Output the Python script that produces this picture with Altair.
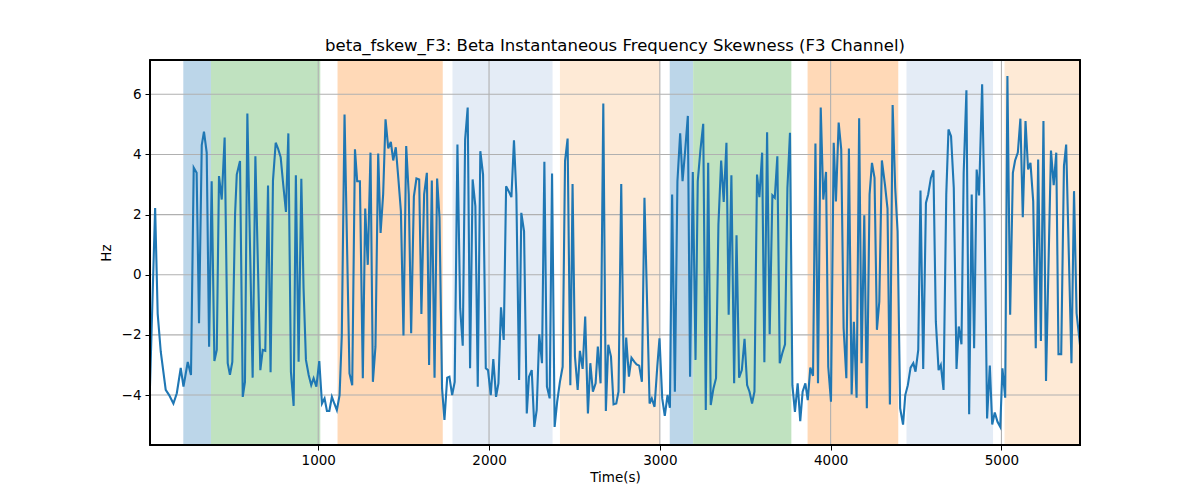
import altair as alt
import pandas as pd

time_s = [15, 45, 60, 78, 107, 127, 152, 172, 195, 211, 236, 255, 271, 288, 302, 318, 331, 347, 361, 376,
          392, 406, 419, 435, 452, 470, 483, 497, 513, 523, 542, 558, 571, 585, 616, 632, 661, 675, 690, 706,
          721, 735, 751, 765, 780, 795, 811, 825, 840, 856, 869, 885, 901, 914, 928, 944, 959, 973, 989, 1006,
          1022, 1037, 1051, 1065, 1080, 1094, 1109, 1125, 1138, 1154, 1183, 1199, 1215, 1228, 1244, 1261, 1275, 1290, 1306, 1320,
          1335, 1351, 1365, 1380, 1394, 1410, 1425, 1439, 1454, 1469, 1484, 1499, 1515, 1530, 1544, 1560, 1575, 1591, 1604, 1620,
          1636, 1649, 1665, 1681, 1696, 1710, 1725, 1739, 1755, 1768, 1784, 1799, 1815, 1831, 1846, 1860, 1875, 1889, 1904, 1920,
          1934, 1949, 1965, 1981, 1994, 2010, 2025, 2041, 2055, 2070, 2086, 2100, 2115, 2131, 2146, 2160, 2176, 2189, 2205, 2221,
          2234, 2250, 2265, 2279, 2294, 2310, 2324, 2339, 2355, 2369, 2384, 2399, 2415, 2431, 2445, 2460, 2476, 2489, 2503, 2519,
          2532, 2548, 2563, 2579, 2593, 2608, 2624, 2637, 2653, 2669, 2684, 2698, 2714, 2729, 2745, 2758, 2774, 2790, 2803, 2819,
          2834, 2850, 2864, 2879, 2895, 2910, 2940, 2953, 2969, 2985, 2998, 3014, 3029, 3045, 3059, 3072, 3088, 3103, 3119, 3133,
          3148, 3164, 3177, 3193, 3209, 3222, 3238, 3254, 3269, 3283, 3298, 3314, 3329, 3343, 3359, 3374, 3390, 3403, 3419, 3435,
          3449, 3464, 3480, 3496, 3511, 3525, 3540, 3554, 3569, 3583, 3599, 3612, 3628, 3643, 3659, 3673, 3688, 3702, 3717, 3733,
          3747, 3762, 3776, 3791, 3807, 3822, 3836, 3852, 3866, 3881, 3897, 3911, 3926, 3942, 3957, 3973, 3986, 4002, 4018, 4031,
          4047, 4062, 4076, 4092, 4107, 4123, 4136, 4152, 4167, 4181, 4197, 4212, 4228, 4242, 4257, 4271, 4285, 4300, 4318, 4333,
          4347, 4363, 4378, 4392, 4407, 4424, 4437, 4452, 4468, 4484, 4497, 4513, 4526, 4542, 4558, 4571, 4587, 4602, 4616, 4632,
          4645, 4661, 4677, 4690, 4705, 4721, 4737, 4750, 4766, 4779, 4795, 4811, 4826, 4840, 4855, 4869, 4887, 4901, 4916, 4932,
          4946, 4961, 4977, 4993, 5006, 5022, 5035, 5051, 5067, 5080, 5096, 5111, 5125, 5141, 5156, 5170, 5186, 5201, 5215, 5231,
          5246, 5261, 5290, 5306, 5321, 5334, 5350, 5366, 5379, 5410, 5425, 5440, 5460]

skew_hz = [-3.7, 2.22, -1.3, -2.56, -3.83, -4.0, -4.28, -3.94, -3.1, -3.72, -2.9, -3.33, 3.56, 3.39, -1.61, 4.31, 4.76, 4.06, -2.39, 3.11,
           -2.87, -2.5, 3.28, 2.5, 4.56, -2.94, -3.33, -2.9, 2.0, 3.33, 3.78, -4.06, -3.56, 5.36, -3.42, 3.94, -3.17, -2.5, -2.53, 2.97,
           -3.24, 3.13, 4.39, 4.19, 3.91, 3.0, 2.09, 4.7, -3.22, -4.36, 3.31, -2.89, 3.19, -0.44, -2.83, -3.33, -3.67, -3.44, -3.72, -2.87,
           -4.28, -4.11, -4.53, -4.53, -4.06, -4.28, -4.5, -4.0, -2.0, 5.33, -3.28, -3.67, 4.17, 3.11, 3.11, -3.44, 2.2, 0.33, 4.06, -3.56,
           -2.39, 4.03, 1.39, 2.67, 5.17, 4.2, 4.42, 3.8, 4.24, 3.2, 2.11, -2.02, 4.28, 2.67, -1.94, 2.61, 3.2, 3.17, -1.3, 2.67,
           3.39, -3.0, 3.13, -3.42, 3.2, 1.89, -3.78, -4.83, -3.42, -3.39, -4.0, -3.56, 4.33, -1.11, -2.36, 4.5, 5.56, -3.11, 3.17, 2.28,
           -3.72, 4.11, 3.33, -3.11, -3.17, -4.0, -2.8, -4.06, -3.61, -1.08, -2.17, 2.94, 2.78, 2.58, 4.47, 2.67, -3.5, 2.06, 1.44, -4.61,
           -3.39, -3.17, -5.06, -4.5, -1.98, -2.94, 3.76, -3.72, -4.11, 3.37, -5.06, -4.22, -3.56, -3.06, 3.78, 4.53, -3.67, 3.02, -2.72, -3.83,
           -2.53, -3.13, -1.39, -4.61, -2.94, -3.89, -3.61, -2.39, -3.61, 5.69, -4.53, -2.33, -2.72, -4.31, -4.28, -3.89, 3.02, -3.94, -2.09, -3.39,
           -2.76, -2.89, -2.98, -3.02, -3.56, 2.56, -4.28, -4.11, -4.39, -3.06, -2.11, -4.11, -4.69, -4.0, -4.42, 2.67, -3.89, 3.11, 4.7, 3.11,
           4.11, 5.28, -3.39, 3.42, -2.83, 3.11, 4.17, 5.02, -4.5, 3.72, -4.33, -3.78, -3.44, 1.67, 3.8, 2.42, 4.39, -1.33, 3.31, -3.61,
           1.31, -3.42, -3.17, -2.13, -3.67, -3.89, -4.28, -3.89, 3.33, 2.58, 4.06, -2.91, 4.74, -1.98, 2.64, 2.56, 3.94, -2.94, -2.61, -2.31,
           2.89, 4.72, -3.67, -4.56, -3.61, -4.87, -3.89, -3.61, -4.17, -3.09, -3.36, 4.36, -3.61, 5.56, 2.5, 3.42, -3.06, -4.22, 4.39, 2.44,
           5.06, 4.17, -1.78, -3.44, 4.2, -3.98, -1.56, -4.09, 5.2, -2.94, 1.98, -4.44, 2.67, 3.72, 3.22, -1.83, -0.89, 3.8, 3.0, 2.2,
           -4.31, 5.64, 2.89, 1.44, -4.44, -4.98, -4.0, -3.67, -3.09, -2.94, -3.22, -2.5, 2.8, -3.13, 2.39, 2.67, 3.22, 3.47, -1.56, -3.17,
           -3.0, -3.83, 2.67, 4.83, 4.61, 2.89, -3.13, -1.72, -2.31, 3.39, 6.13, -4.64, 2.67, -2.44, 3.5, 2.64, 6.33, 2.11, -4.78, -3.02,
           -4.98, -4.58, -4.89, -5.06, -3.11, -4.09, 6.61, -1.33, 3.39, 3.8, 4.06, 5.19, 1.91, 5.11, 3.5, 3.72, 2.44, -2.44, 3.83, -2.2,
           5.11, -3.53, 4.13, 2.98, 4.06, -2.64, -2.64, 3.61, 4.33, -2.94, 2.78, -1.28, -2.33]

span_start = [210, 372, 1113, 1786, 2415, 3058, 3195, 3865, 4444, 5018]
span_end = [372, 1012, 1729, 2372, 3000, 3195, 3770, 4396, 4951, 5460]
span_kind = ["A", "B", "C", "D", "E", "A", "B", "C", "D", "E"]
kind_names = ["A", "B", "C", "D", "E"]
kind_colors = ["#bcd6e9", "#c0e2c0", "#ffd9b7", "#e4ecf6", "#feead6"]

x_ticks = [1000, 2000, 3000, 4000, 5000]
y_ticks = [-4, -2, 0, 2, 4, 6]

line_df = pd.DataFrame({"t": time_s, "v": skew_hz})
span_df = pd.DataFrame({"t": span_start, "t2": span_end, "kind": span_kind})
xgrid_df = pd.DataFrame({"t": x_ticks})
ygrid_df = pd.DataFrame({"v": y_ticks})

FONT = "DejaVu Sans"
W, H = 930, 385
xscale = alt.Scale(domain=[15, 5460], nice=False, zero=False)
yscale = alt.Scale(domain=[-5.66, 7.14], nice=False, zero=False)

xaxis = alt.Axis(values=x_ticks, format="d", grid=False, tickColor="black", domainColor="black",
                 labelColor="black", labelFont=FONT, labelFontSize=13.5, tickSize=5, labelPadding=3,
                 title="Time(s)", titleFont=FONT, titleFontSize=13.5, titleFontWeight="normal",
                 titleColor="black", titlePadding=4)
yaxis = alt.Axis(values=y_ticks, format="d", grid=False, tickColor="black", domainColor="black",
                 labelColor="black", labelFont=FONT, labelFontSize=13.5, tickSize=5, labelPadding=4,
                 title="Hz", titleFont=FONT, titleFontSize=13.5, titleFontWeight="normal",
                 titleColor="black", titlePadding=8)

X = alt.X("t:Q", scale=xscale, axis=xaxis, title="Time(s)")
Y = alt.Y("v:Q", scale=yscale, axis=yaxis, title="Hz")

spans = alt.Chart(span_df).mark_rect().encode(
    x=X, x2="t2:Q",
    color=alt.Color("kind:N", scale=alt.Scale(domain=kind_names, range=kind_colors), legend=None),
)
vgrid = alt.Chart(xgrid_df).mark_rule(color="#b0b0b0", strokeWidth=1.1).encode(x=X)
hgrid = alt.Chart(ygrid_df).mark_rule(color="#b0b0b0", strokeWidth=1.1).encode(y=Y)
line = alt.Chart(line_df).mark_line(color="#1f77b4", strokeWidth=2.1, clip=True).encode(x=X, y=Y)
frame = alt.Chart(ygrid_df).mark_rect(filled=False, stroke="black", strokeWidth=1.2).encode(
    x=alt.value(0), x2=alt.value(W), y=alt.value(0), y2=alt.value(H)
)

chart = alt.layer(spans, vgrid, hgrid, line, frame).properties(
    width=W, height=H,
    title=alt.Title("beta_fskew_F3: Beta Instantaneous Frequency Skewness (F3 Channel)",
                    font=FONT, fontSize=16.5, fontWeight="normal", color="black", offset=5),
    autosize=alt.AutoSizeParams(type="none"),
    padding={"left": 142, "top": 52, "right": 112, "bottom": 40},
).configure_view(stroke="black", strokeWidth=1.2)

chart.save("out.html", embed_options={"renderer": "svg", "actions": False})
